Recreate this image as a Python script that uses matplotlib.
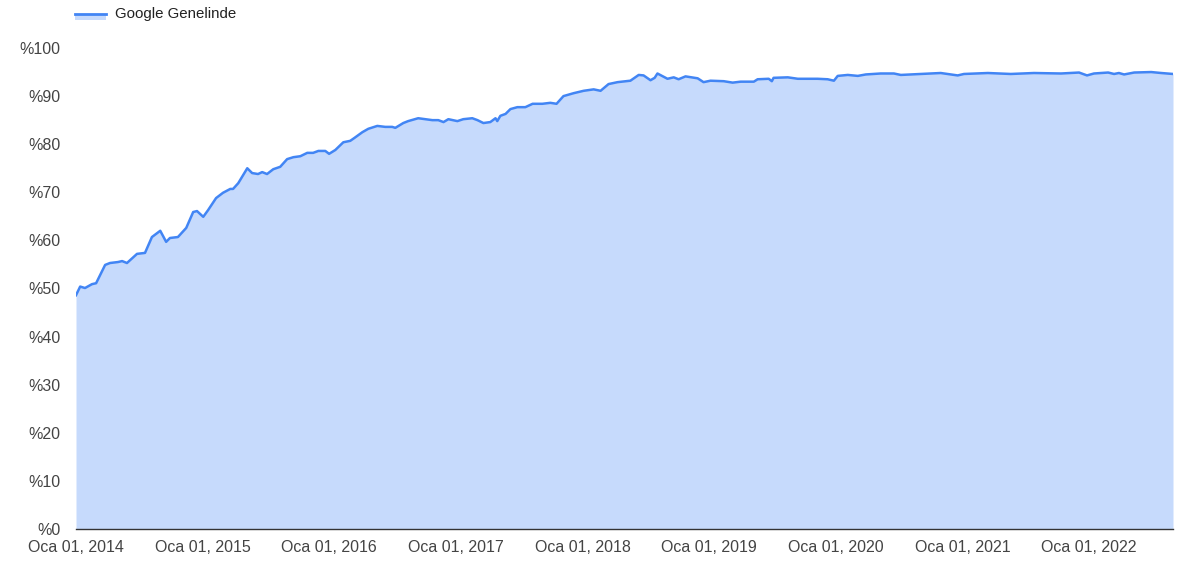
import matplotlib
matplotlib.use("Agg")
import matplotlib.pyplot as plt
from matplotlib.lines import Line2D
from matplotlib.patches import Rectangle
import pandas as pd

plt.rcParams['font.family'] = ['Liberation Sans', 'DejaVu Sans']

series_name = "Google Genelinde"
dates = [
    "2014-01-01", "2014-01-13", "2014-01-27", "2014-02-16", "2014-02-28", "2014-03-26",
    "2014-04-09", "2014-05-02", "2014-05-14", "2014-05-28", "2014-06-26", "2014-07-19",
    "2014-08-08", "2014-09-01", "2014-09-18", "2014-09-29", "2014-10-22", "2014-11-15",
    "2014-12-05", "2014-12-16", "2015-01-03", "2015-01-17", "2015-02-09", "2015-03-01",
    "2015-03-22", "2015-03-30", "2015-04-14", "2015-05-10", "2015-05-24", "2015-06-10",
    "2015-06-22", "2015-07-06", "2015-07-24", "2015-08-13", "2015-09-02", "2015-09-20",
    "2015-10-10", "2015-10-30", "2015-11-16", "2015-12-01", "2015-12-21", "2016-01-01",
    "2016-01-19", "2016-02-11", "2016-03-02", "2016-03-14", "2016-04-06", "2016-04-23",
    "2016-05-19", "2016-06-11", "2016-07-01", "2016-07-10", "2016-08-02", "2016-08-16",
    "2016-09-14", "2016-10-05", "2016-10-25", "2016-11-11", "2016-11-26", "2016-12-10",
    "2017-01-05", "2017-01-22", "2017-02-17", "2017-03-04", "2017-03-21", "2017-04-10",
    "2017-04-25", "2017-04-30", "2017-05-09", "2017-05-24", "2017-06-07", "2017-06-27",
    "2017-07-20", "2017-08-10", "2017-08-24", "2017-09-07", "2017-09-30", "2017-10-18",
    "2017-11-07", "2017-12-06", "2018-01-04", "2018-02-02", "2018-02-22", "2018-03-17",
    "2018-04-12", "2018-05-19", "2018-06-12", "2018-06-26", "2018-07-16", "2018-07-28",
    "2018-08-05", "2018-09-03", "2018-09-21", "2018-10-05", "2018-10-25", "2018-11-29",
    "2018-12-16", "2019-01-05", "2019-02-12", "2019-03-10", "2019-04-02", "2019-05-10",
    "2019-05-21", "2019-06-22", "2019-07-01", "2019-07-06", "2019-08-16", "2019-09-14",
    "2019-11-10", "2019-12-09", "2019-12-27", "2020-01-07", "2020-02-05", "2020-03-05",
    "2020-03-28", "2020-05-10", "2020-06-17", "2020-07-07", "2020-09-03", "2020-10-30",
    "2020-11-28", "2020-12-18", "2021-01-05", "2021-03-15", "2021-05-20", "2021-07-26",
    "2021-10-12", "2021-12-03", "2021-12-26", "2022-01-15", "2022-02-25", "2022-03-14",
    "2022-03-28", "2022-04-12", "2022-05-11", "2022-06-29", "2022-07-28", "2022-08-31",
]
values = [
    48.6, 50.4, 50.1, 50.9, 51.1, 54.9,
    55.3, 55.5, 55.7, 55.3, 57.2, 57.4,
    60.7, 62.0, 59.7, 60.5, 60.7, 62.6,
    65.9, 66.1, 64.9, 66.3, 68.8, 69.9,
    70.7, 70.7, 71.9, 75.0, 74.0, 73.8,
    74.2, 73.8, 74.8, 75.3, 76.9, 77.3,
    77.5, 78.2, 78.2, 78.6, 78.6, 78.0,
    78.8, 80.4, 80.7, 81.3, 82.5, 83.2,
    83.8, 83.6, 83.6, 83.4, 84.4, 84.8,
    85.4, 85.2, 85.0, 85.0, 84.6, 85.2,
    84.8, 85.2, 85.4, 85.0, 84.4, 84.6,
    85.4, 84.8, 85.9, 86.3, 87.3, 87.7,
    87.7, 88.4, 88.4, 88.4, 88.6, 88.4,
    90.0, 90.6, 91.1, 91.4, 91.1, 92.5,
    92.9, 93.2, 94.4, 94.3, 93.3, 93.8,
    94.7, 93.6, 93.9, 93.5, 94.1, 93.7,
    92.9, 93.2, 93.1, 92.8, 93.0, 93.0,
    93.5, 93.6, 93.1, 93.8, 93.9, 93.6,
    93.6, 93.5, 93.2, 94.2, 94.4, 94.2,
    94.5, 94.7, 94.7, 94.4, 94.6, 94.8,
    94.5, 94.3, 94.6, 94.8, 94.6, 94.8,
    94.7, 94.9, 94.3, 94.7, 94.9, 94.6,
    94.8, 94.5, 94.9, 95.0, 94.8, 94.6,
]
y_ticks = [0, 10, 20, 30, 40, 50, 60, 70, 80, 90, 100]
x_tick_years = [2014, 2015, 2016, 2017, 2018, 2019, 2020, 2021, 2022]

line_color = "#4285F4"
fill_color = "#C6DAFC"
text_color = "#444444"

x = pd.to_datetime(dates)

fig = plt.figure(figsize=(12, 5.76), dpi=100)
ax = fig.add_axes([76/1200, 1-529/576, (1173-76)/1200, (529-48)/576])

ax.fill_between(x, values, 0, color=fill_color, linewidth=0)
ax.plot(x, values, color=line_color, linewidth=1.8)

ax.set_xlim(x[0], x[-1])
ax.set_ylim(0, 100)
ax.set_yticks(y_ticks)
ax.set_yticklabels([f"%{v}" for v in y_ticks])
tick_dates = pd.to_datetime([f"{y}-01-01" for y in x_tick_years])
ax.set_xticks(tick_dates)
ax.set_xticklabels([f"Oca 01, {y}" for y in x_tick_years])

for s in ["top", "right", "left"]:
    ax.spines[s].set_visible(False)
ax.spines["bottom"].set_color("#333333")
ax.spines["bottom"].set_linewidth(1)
ax.tick_params(axis="both", length=0, labelsize=11.5, colors=text_color)
ax.tick_params(axis="y", pad=11)
ax.tick_params(axis="x", pad=8)

# Legend
fig.add_artist(Rectangle((75/1200, 1-20/576), 31/1200, 6/576, transform=fig.transFigure,
                         facecolor=fill_color, edgecolor="none"))
fig.add_artist(Line2D([75/1200, 106/1200], [1-14/576, 1-14/576], transform=fig.transFigure,
                      color=line_color, linewidth=2))
fig.text(115/1200, 1-14/576, series_name, fontsize=10.8, color="#222222", va="center", ha="left")

fig.savefig("out.png", dpi=100)
